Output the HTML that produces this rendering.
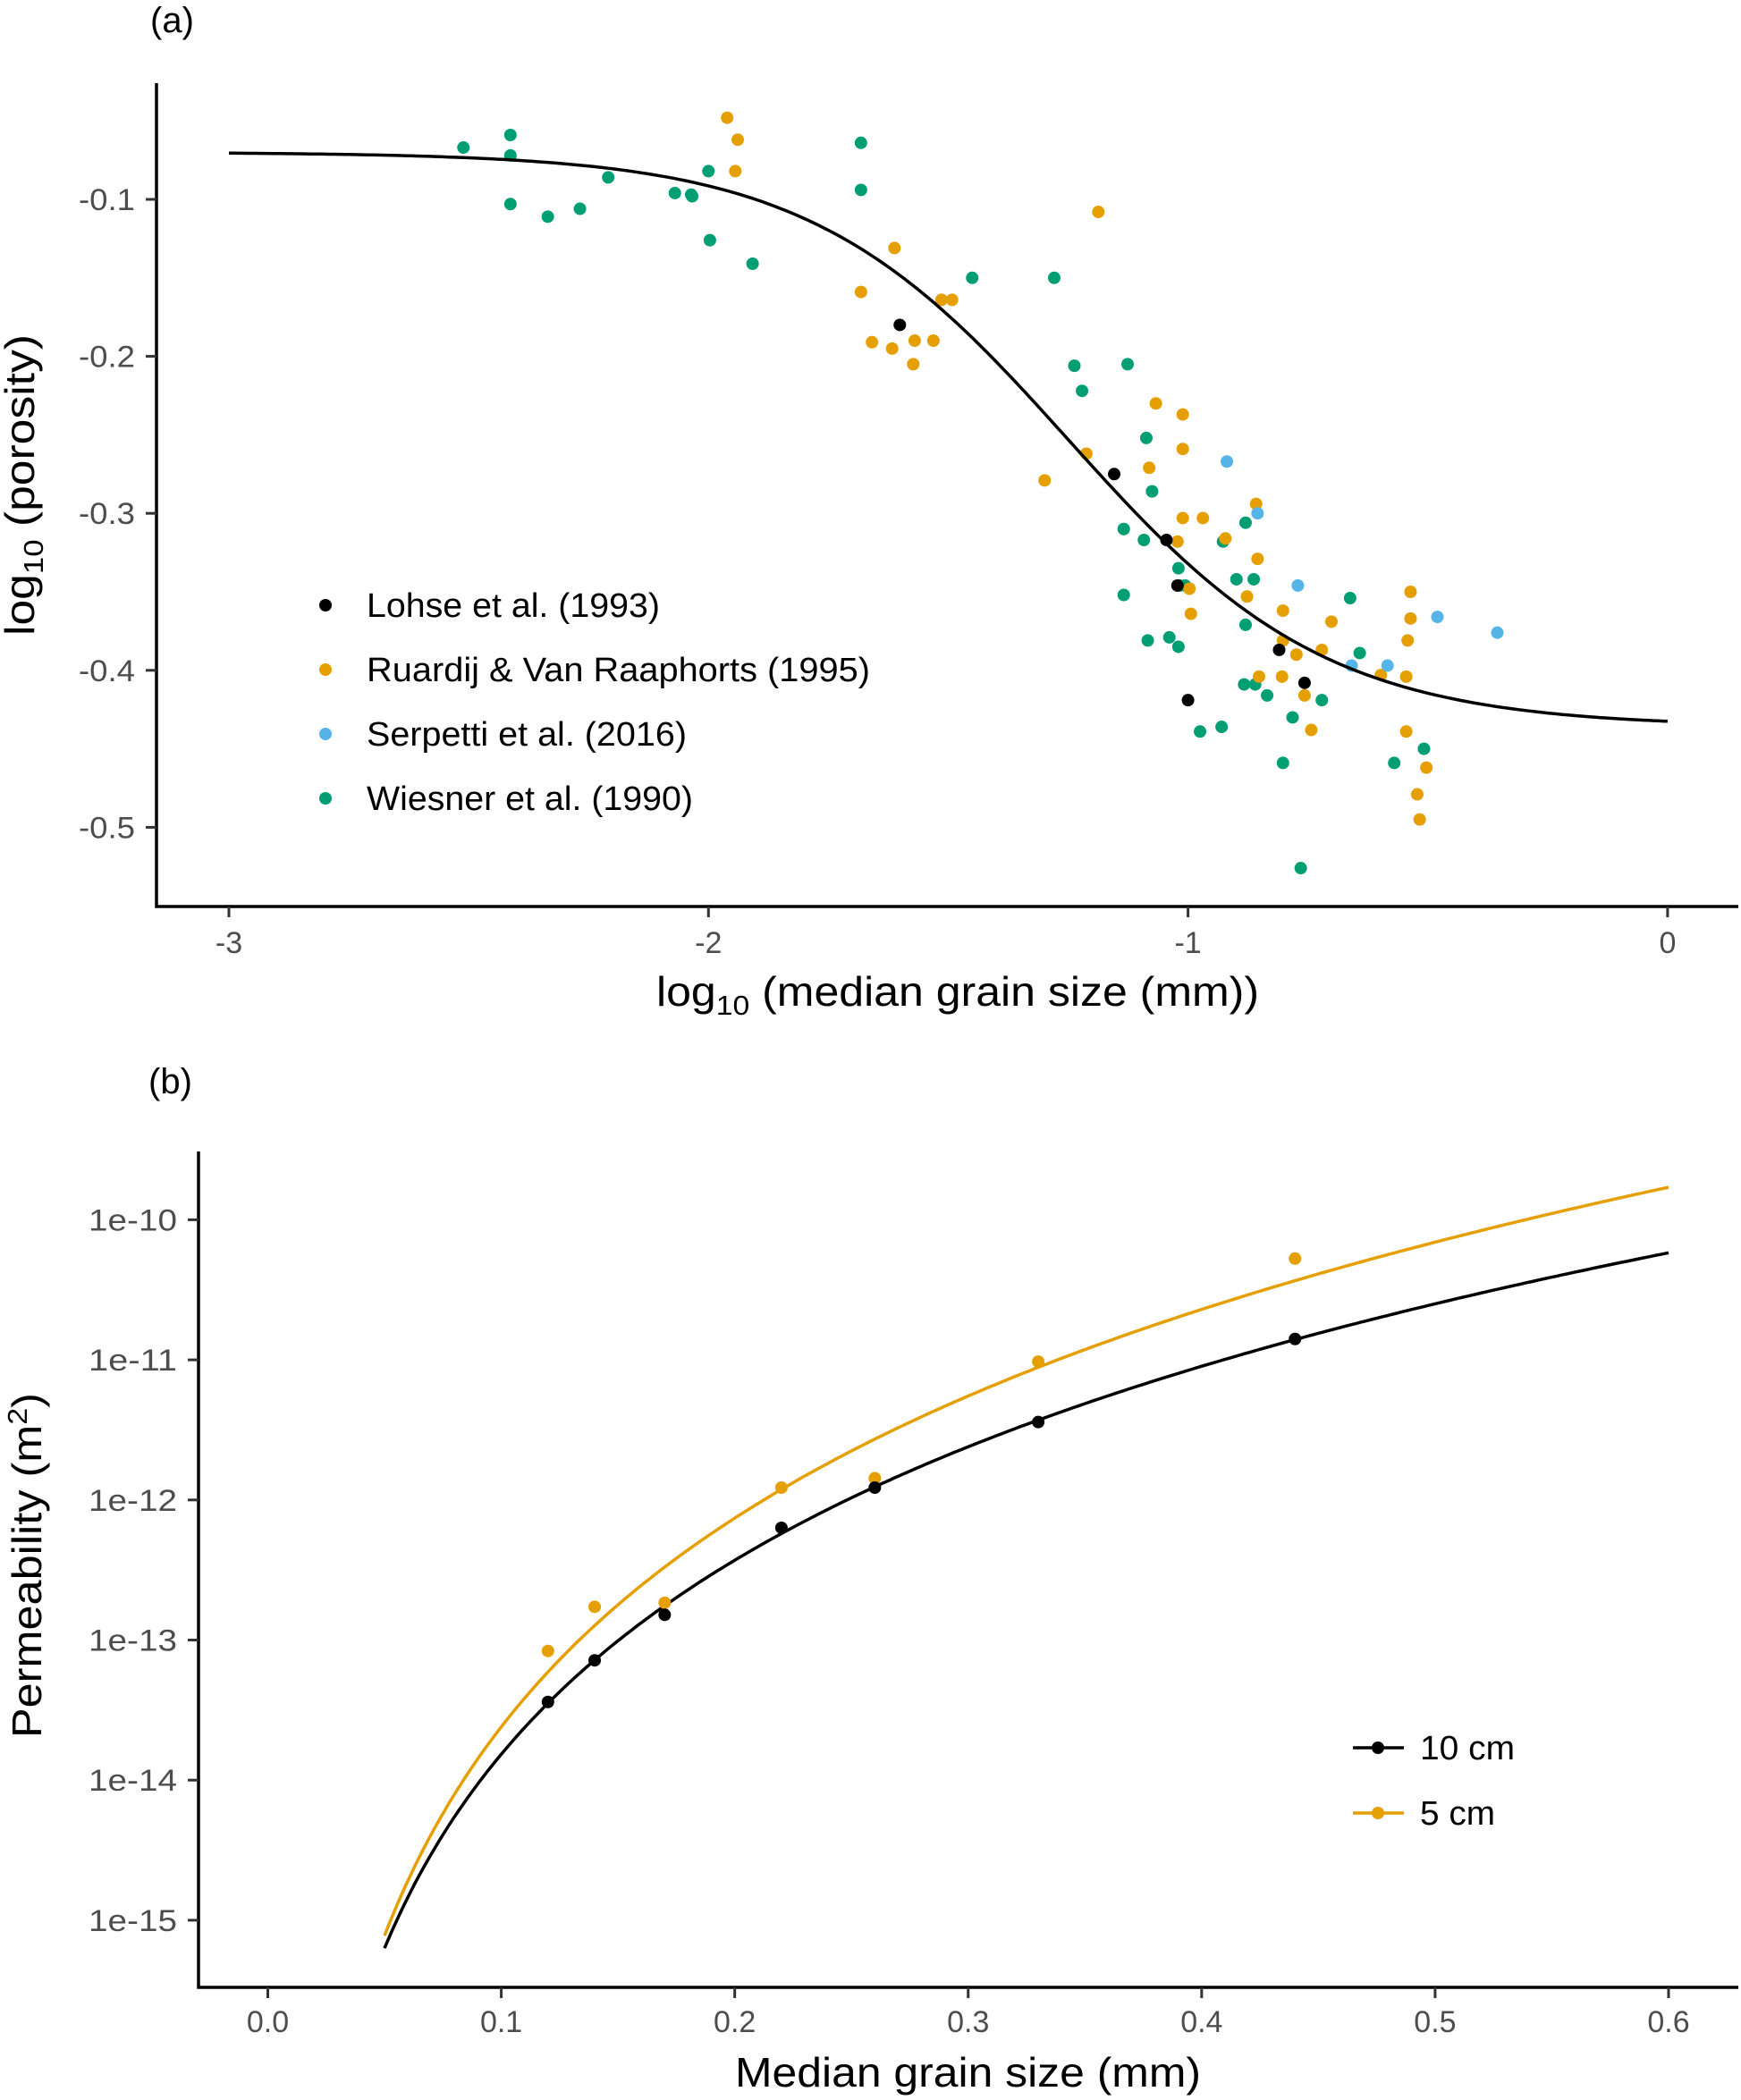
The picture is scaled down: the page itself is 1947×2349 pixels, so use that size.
<!DOCTYPE html>
<html><head><meta charset="utf-8">
<style>
html,body{margin:0;padding:0;background:#fff;}
svg{display:block;font-family:"Liberation Sans",sans-serif;}
</style></head>
<body>
<svg id="fig" width="1947" height="2349" viewBox="0 0 1947 2349" xmlns="http://www.w3.org/2000/svg">
<text x="168" y="36" font-size="40">(a)</text>
<text x="166" y="1223" font-size="40">(b)</text>
<g id="pa"></g>
<g id="pb"></g>
</svg>
<script>
// ---------- Panel (a) data ----------
const aXTicks = [-3, -2, -1, 0];
const aXTickLabels = ["-3", "-2", "-1", "0"];
const aYTicks = [-0.1, -0.2, -0.3, -0.4, -0.5];
const aYTickLabels = ["-0.1", "-0.2", "-0.3", "-0.4", "-0.5"];
const seriesNames = ["Lohse et al. (1993)", "Ruardij & Van Raaphorts (1995)", "Serpetti et al. (2016)", "Wiesner et al. (1990)"];
const lohseX = [-1.601,-1.154,-1.045,-1.022,-1.000,-0.810,-0.757];
const lohseY = [-0.180,-0.275,-0.317,-0.346,-0.419,-0.387,-0.408];
const ruardijX = [-1.961,-1.939,-1.944,-1.612,-1.682,-1.659,-1.617,-1.570,-1.573,-1.531,-1.514,-1.492,-1.187,-1.299,-1.212,-1.067,-1.011,-1.011,-1.081,-1.011,-0.969,-0.922,-0.858,-0.855,-0.877,-0.997,-0.994,-1.022,-0.802,-0.701,-0.721,-0.802,-0.852,-0.804,-0.774,-0.757,-0.743,-0.598,-0.545,-0.536,-0.536,-0.542,-0.545,-0.522,-0.517,-0.503];
const ruardijY = [-0.048,-0.062,-0.082,-0.131,-0.159,-0.191,-0.195,-0.190,-0.205,-0.190,-0.164,-0.164,-0.108,-0.279,-0.262,-0.230,-0.237,-0.259,-0.271,-0.303,-0.303,-0.316,-0.294,-0.329,-0.353,-0.348,-0.364,-0.318,-0.362,-0.369,-0.387,-0.381,-0.404,-0.404,-0.390,-0.416,-0.438,-0.403,-0.404,-0.350,-0.367,-0.381,-0.439,-0.479,-0.495,-0.462];
const serpettiX = [-0.919,-0.855,-0.771,-0.659,-0.584,-0.480,-0.355];
const serpettiY = [-0.267,-0.300,-0.346,-0.397,-0.397,-0.366,-0.376];
const wiesnerX = [-2.511,-2.413,-2.413,-2.413,-2.335,-2.268,-2.209,-2.070,-2.036,-2.034,-2.000,-1.997,-1.908,-1.682,-1.682,-1.450,-1.279,-1.237,-1.221,-1.126,-1.087,-1.075,-1.134,-1.092,-1.134,-1.020,-1.017,-1.006,-1.084,-1.039,-1.020,-0.975,-0.930,-0.927,-0.880,-0.899,-0.863,-0.880,-0.883,-0.860,-0.835,-0.782,-0.802,-0.721,-0.765,-0.662,-0.642,-0.570,-0.508];
const wiesnerY = [-0.067,-0.059,-0.072,-0.103,-0.111,-0.106,-0.086,-0.096,-0.097,-0.098,-0.082,-0.126,-0.141,-0.064,-0.094,-0.150,-0.150,-0.206,-0.222,-0.205,-0.252,-0.286,-0.310,-0.317,-0.352,-0.335,-0.346,-0.346,-0.381,-0.379,-0.385,-0.439,-0.436,-0.318,-0.306,-0.342,-0.342,-0.371,-0.409,-0.409,-0.416,-0.430,-0.459,-0.419,-0.526,-0.354,-0.389,-0.459,-0.450];
const fitUpper = -0.070, fitLower = -0.436, fitMid = -1.25, fitScale = 0.27;

// ---------- Panel (b) data ----------
const bXTicks = [0, 0.1, 0.2, 0.3, 0.4, 0.5, 0.6];
const bXTickLabels = ["0.0","0.1","0.2","0.3","0.4","0.5","0.6"];
const bYTicks = [-10, -11, -12, -13, -14, -15];
const bYTickLabels = ["1e-10","1e-11","1e-12","1e-13","1e-14","1e-15"];
const grainSize = [0.12, 0.14, 0.17, 0.22, 0.26, 0.33, 0.44];
const perm10cm = [-13.442,-13.145,-12.820,-12.199,-11.912,-11.444,-10.851];
const perm5cm = [-13.078,-12.763,-12.734,-11.912,-11.845,-11.013,-10.277];
const fit10Intercept = -15.20, fit10Exponent = 4.6;
const fit5Intercept = -15.11, fit5Exponent = 4.95;

const NS = "http://www.w3.org/2000/svg";
function mk(parent, tag, attrs, text) {
  const e = document.createElementNS(NS, tag);
  for (const k in attrs) e.setAttribute(k, attrs[k]);
  if (text !== undefined) e.textContent = text;
  parent.appendChild(e);
  return e;
}
const ORANGE = "#E69F00", BLUE = "#56B4E9", GREEN = "#009E73", BLACK = "#000000";
const SA = "spacingAndGlyphs";

// ---- Panel A ----
const pa = document.getElementById("pa");
const ax = v => 256 + (v + 3) * 536.3;
const ay = v => 223 - (v + 0.1) / 0.1 * 175.6;
let e;
e = mk(pa, "path", {d: "M175,93 V1014 H1944", fill: "none", stroke: "#000", "stroke-width": 3.5});


aXTicks.forEach((t, i) => {
  e = mk(pa, "line", {x1: ax(t), x2: ax(t), y1: 1014, y2: 1026, stroke: "#333", "stroke-width": 3});
  
  
  e = mk(pa, "text", {x: ax(t), y: 1066, "font-size": 34, fill: "#4d4d4d", "text-anchor": "middle"}, aXTickLabels[i]);
  
  
});
aYTicks.forEach((t, i) => {
  e = mk(pa, "line", {x1: 163, x2: 175, y1: ay(t), y2: ay(t), stroke: "#333", "stroke-width": 3});
  
  
  e = mk(pa, "text", {x: 151, y: ay(t) + 12, "font-size": 34, fill: "#4d4d4d", "text-anchor": "end", textLength: 63, lengthAdjust: SA}, aYTickLabels[i]);
  
  
});
e = mk(pa, "text", {x: 734, y: 1125, "font-size": 46, textLength: 674, lengthAdjust: SA});


e.innerHTML = 'log<tspan font-size="31" dy="10">10</tspan><tspan dy="-10"> (median grain size (mm))</tspan>';
e = mk(pa, "text", {x: 0, y: 0, "font-size": 46, textLength: 337, lengthAdjust: SA, transform: "translate(38,711) rotate(-90)"});


e.innerHTML = 'log<tspan font-size="31" dy="10">10</tspan><tspan dy="-10"> (porosity)</tspan>';

function drawPts(g, xs, ys, fx, fy, col, name) {
  xs.forEach((x, i) => {
    const c = mk(g, "circle", {cx: fx(x), cy: fy(ys[i]), r: 7, fill: col});
    
    
  });
}
drawPts(pa, wiesnerX, wiesnerY, ax, ay, GREEN, 'wiesner-point');
drawPts(pa, ruardijX, ruardijY, ax, ay, ORANGE, 'ruardij-point');
drawPts(pa, serpettiX, serpettiY, ax, ay, BLUE, 'serpetti-point');
drawPts(pa, lohseX, lohseY, ax, ay, BLACK, 'lohse-point');
let d = "";
for (let i = 0; i <= 300; i++) {
  const x = -3 + 3 * i / 300;
  const y = fitUpper + (fitLower - fitUpper) / (1 + Math.exp(-(x - fitMid) / fitScale));
  d += (i ? "L" : "M") + ax(x).toFixed(1) + "," + ay(y).toFixed(1);
}
e = mk(pa, "path", {d: d, fill: "none", stroke: "#000", "stroke-width": 3.5});


const legCols = [BLACK, ORANGE, BLUE, GREEN];
const legWidths = [328, 563, 358, 365];
seriesNames.forEach((n, i) => {
  const y = 677 + i * 72;
  e = mk(pa, "circle", {cx: 364, cy: y, r: 7, fill: legCols[i]});
  
  
  e = mk(pa, "text", {x: 410, y: y + 13, "font-size": 38, textLength: legWidths[i], lengthAdjust: SA}, n);
  
  
});

// ---- Panel B ----
const pb = document.getElementById("pb");
const bx = v => 299.5 + v / 0.6 * 1566.5;
const by = v => 1364.4 - (v + 10) * 156.7;
e = mk(pb, "path", {d: "M222,1288 V2223 H1944", fill: "none", stroke: "#000", "stroke-width": 3.5});


bXTicks.forEach((t, i) => {
  e = mk(pb, "line", {x1: bx(t), x2: bx(t), y1: 2223, y2: 2235, stroke: "#333", "stroke-width": 3});
  
  
  e = mk(pb, "text", {x: bx(t), y: 2273, "font-size": 34, fill: "#4d4d4d", "text-anchor": "middle"}, bXTickLabels[i]);
  
  
});
bYTicks.forEach((t, i) => {
  e = mk(pb, "line", {x1: 210, x2: 222, y1: by(t), y2: by(t), stroke: "#333", "stroke-width": 3});
  
  
  e = mk(pb, "text", {x: 198, y: by(t) + 12, "font-size": 34, fill: "#4d4d4d", "text-anchor": "end", textLength: 99, lengthAdjust: SA}, bYTickLabels[i]);
  
  
});
e = mk(pb, "text", {x: 822, y: 2334, "font-size": 46, textLength: 521, lengthAdjust: SA}, "Median grain size (mm)");


e = mk(pb, "text", {x: 0, y: 0, "font-size": 46, textLength: 386, lengthAdjust: SA, transform: "translate(46,1944) rotate(-90)"});


e.innerHTML = 'Permeability (m<tspan font-size="31" dy="-16">2</tspan><tspan dy="16">)</tspan>';
function powCurve(b0, n, col, name) {
  let p = "";
  for (let i = 0; i <= 300; i++) {
    const x = 0.05 + 0.55 * i / 300;
    const y = b0 + n * Math.log10(x / 0.05);
    p += (i ? "L" : "M") + bx(x).toFixed(1) + "," + by(y).toFixed(1);
  }
  const c = mk(pb, "path", {d: p, fill: "none", stroke: col, "stroke-width": 3.5});
  
  
}
powCurve(fit5Intercept, fit5Exponent, ORANGE, 'fit-curve-5cm');
powCurve(fit10Intercept, fit10Exponent, BLACK, 'fit-curve-10cm');
drawPts(pb, grainSize, perm5cm, bx, by, ORANGE, 'point-5cm');
drawPts(pb, grainSize, perm10cm, bx, by, BLACK, 'point-10cm');
[["10 cm", BLACK, 1955, 106], ["5 cm", ORANGE, 2028, 84]].forEach(([n, col, y, w]) => {
  e = mk(pb, "line", {x1: 1513, x2: 1570, y1: y, y2: y, stroke: col, "stroke-width": 3.5});
  
  
  e = mk(pb, "circle", {cx: 1541, cy: y, r: 7, fill: col});
  
  
  e = mk(pb, "text", {x: 1588, y: y + 13, "font-size": 38, textLength: w, lengthAdjust: SA}, n);
  
  
});
</script>
</body></html>
